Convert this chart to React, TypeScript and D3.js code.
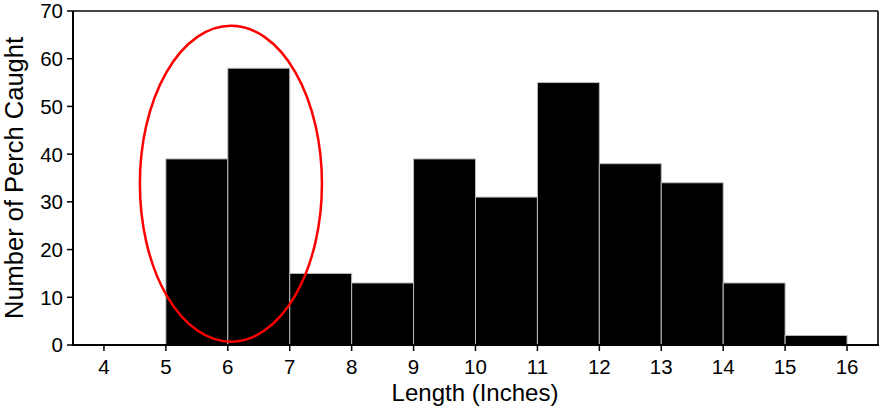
import React from 'react';
import * as d3 from 'd3';

// histogram of perch lengths, bin = [start, start+1)
const binStarts = [4, 5, 6, 7, 8, 9, 10, 11, 12, 13, 14, 15];
const counts = [0, 39, 58, 15, 13, 39, 31, 55, 38, 34, 13, 2];
const xTicks = [4, 5, 6, 7, 8, 9, 10, 11, 12, 13, 14, 15, 16];
const yTicks = [0, 10, 20, 30, 40, 50, 60, 70];
// highlighted region (data coords)
const highlight = { cx: 6.05, cy: 33.8, rx: 1.47, ry: 33.1 };

const W = 889;
const H = 415;
const margin = { top: 11, right: 11, bottom: 70, left: 73 };
const font = '"Liberation Sans", Arial, sans-serif';

const App = () => {
  const innerW = W - margin.left - margin.right;
  const innerH = H - margin.top - margin.bottom;

  const x = d3.scaleLinear().domain([3.5, 16.5]).range([0, innerW]);
  const y = d3.scaleLinear().domain([0, 70]).range([innerH, 0]);

  const bars = binStarts
    .map((s, i) => ({ s, v: counts[i] }))
    .filter(d => d.v > 0);

  const ex = x(highlight.cx);
  const ey = y(highlight.cy);
  const erx = x(highlight.cx + highlight.rx) - ex;
  const ery = y(0) - y(highlight.ry);

  return (
    <svg width={W} height={H} style={{ position: 'absolute', left: 0, top: 0, background: '#fff' }}>
      <g transform={`translate(${margin.left},${margin.top})`}>
        {/* bars */}
        {bars.map(d => (
          <rect
            key={d.s}
            x={x(d.s)}
            y={y(d.v)}
            width={x(d.s + 1) - x(d.s)}
            height={y(0) - y(d.v)}
            fill="#000"
            stroke="#bbb"
            strokeWidth={1}
          />
        ))}

        {/* frame */}
        <line x1={0} x2={innerW} y1={0} y2={0} stroke="#444" strokeWidth={2} />
        <line x1={innerW} x2={innerW} y1={0} y2={innerH} stroke="#333" strokeWidth={2} />
        <line x1={0} x2={0} y1={0} y2={innerH + 1} stroke="#000" strokeWidth={2} />
        <line x1={-1} x2={innerW + 1} y1={innerH} y2={innerH} stroke="#000" strokeWidth={2} />

        {/* y axis ticks */}
        {yTicks.map(t => (
          <g key={t} transform={`translate(0,${y(t)})`}>
            <line x1={-6} x2={0} stroke="#000" strokeWidth={1.5} />
            <text x={-10} dy="0.36em" textAnchor="end" fontSize={20.5} fontFamily={font} fill="#000">
              {t}
            </text>
          </g>
        ))}

        {/* x axis ticks */}
        {xTicks.map(t => (
          <g key={t} transform={`translate(${x(t)},${innerH})`}>
            <line y1={0} y2={6} stroke="#000" strokeWidth={1.5} />
            <text y={29} textAnchor="middle" fontSize={20.5} fontFamily={font} fill="#000">
              {t}
            </text>
          </g>
        ))}

        {/* highlight ellipse */}
        <ellipse cx={ex} cy={ey} rx={erx} ry={ery} fill="none" stroke="#f00" strokeWidth={2.5} />

        {/* axis titles */}
        <text
          x={475 - margin.left}
          y={innerH + 56}
          textAnchor="middle"
          fontSize={24}
          fontFamily={font}
          fill="#000"
        >
          Length (Inches)
        </text>
        <text
          transform={`translate(${-50},${innerH / 2}) rotate(-90)`}
          textAnchor="middle"
          fontSize={25.5}
          fontFamily={font}
          fill="#000"
        >
          Number of Perch Caught
        </text>
      </g>
    </svg>
  );
};

export default App;
